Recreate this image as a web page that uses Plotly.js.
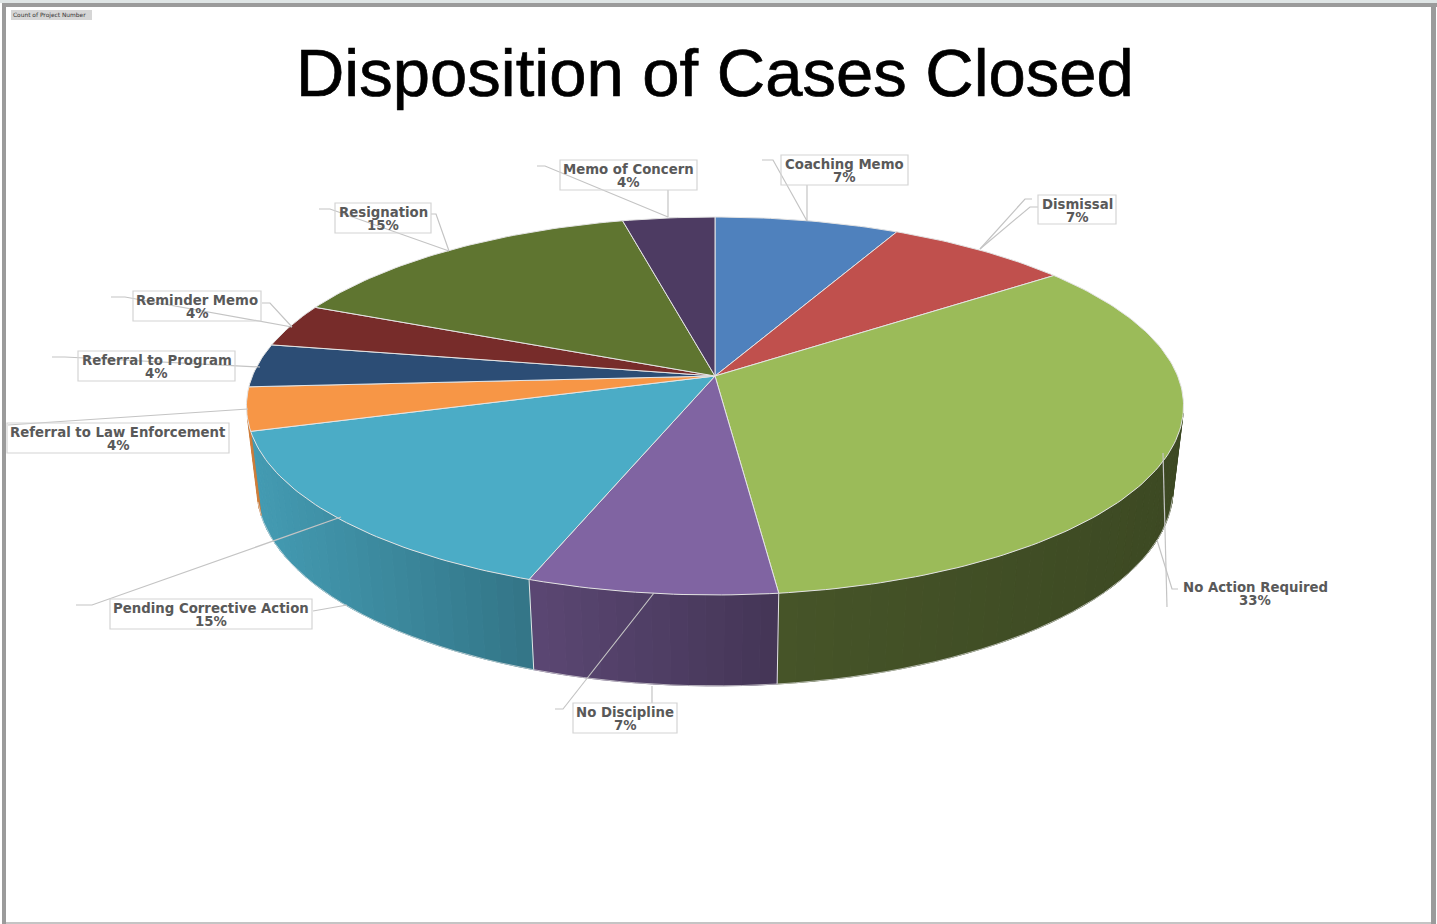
<!DOCTYPE html>
<html><head><meta charset="utf-8">
<script src="https://cdn.plot.ly/plotly-3.0.1.min.js"></script>
<style>html,body{margin:0;padding:0;background:#fff}#chart{width:1437px;height:924px}
.gtitle{stroke:#000;stroke-width:.7px}</style>
</head><body><div id="chart"></div>
<script>
// ---- data ----
const categories = ["Coaching Memo","Dismissal","No Action Required","No Discipline","Pending Corrective Action","Referral to Law Enforcement","Referral to Program","Reminder Memo","Resignation","Memo of Concern"];
const counts = [2,2,9,2,4,1,1,1,4,1];
const chartTitle = "Disposition of Cases Closed";
const fieldButton = "Count of Project Number";

// ---- styles ----
const topColors = ["#4f81bd","#c0504d","#9bbb59","#8064a2","#4bacc6","#f79646","#2c4d75","#772c2a","#5f7530","#4d3b62"];
const wallShade = [[.6,.5],[.6,.5],[.45,.39],[.71,.53],[.90,.68],[.85,.8],[.6,.5],[.6,.5],[.6,.5],[.6,.5]]; // [left,right]

// ---- perspective model of the pie (maps disk coords to page pixels) ----
const view = {cx:715, cy:376, a:462.6, b:184.2, k:.1587, drop:83.3, m:.022};
function project(u,v,z){
  const w = 1 + view.k*v + view.m*z;
  return [view.cx + view.a*u/w, view.cy + (-view.b*v + view.drop*z)/w];
}
const total = counts.reduce((s,c)=>s+c,0);
const rad = d=>d*Math.PI/180;
const rim = (d,z)=>project(Math.sin(rad(d)),Math.cos(rad(d)),z);
function hex(c,f){
  const n=parseInt(c.slice(1),16);
  return "rgb("+[(n>>16)&255,(n>>8)&255,n&255].map(x=>Math.round(x*f)).join(",")+")";
}
const traces=[];
const edge="#e4e4e4";
let acc=0;
const spans=counts.map(c=>{const s=acc/total*360; acc+=c; return [s,acc/total*360];});

// walls: narrow strips so that each carries its share of the shading
spans.forEach(([s,e],i)=>{
  const step=(e-s)/Math.ceil((e-s)/2);
  const strips=[];
  for(let d=s;d<e-1e-6;d+=step){
    const d2=d+step;
    const q=[rim(d,0),rim(d2,0),rim(d2,1),rim(d,1)];
    let area=0;
    q.forEach((p,j)=>{const r=q[(j+1)%4];area+=p[0]*r[1]-r[0]*p[1];});
    if(area>0) continue;
    strips.push([d,d2,q]);
  }
  strips.forEach(([d,d2,q])=>{
    const x0=Math.min(...strips.map(t=>Math.min(t[2][0][0],t[2][1][0])));
    const x1=Math.max(...strips.map(t=>Math.max(t[2][0][0],t[2][1][0])));
    const t=(x1>x0)?((q[0][0]+q[1][0])/2-x0)/(x1-x0):0;
    const col=hex(topColors[i],wallShade[i][0]+(wallShade[i][1]-wallShade[i][0])*t);
    traces.push({type:"scatter",mode:"lines",x:q.concat([q[0]]).map(p=>p[0]),y:q.concat([q[0]]).map(p=>p[1]),
      fill:"toself",fillcolor:col,line:{color:col,width:1},hoverinfo:"skip",showlegend:false});
  });
  if(strips.length){
    const bx=[],by=[];
    strips.forEach(t=>{bx.push(t[2][3][0]);by.push(t[2][3][1]);});
    const l=strips[strips.length-1][2][2]; bx.push(l[0]);by.push(l[1]);
    traces.push({type:"scatter",mode:"lines",x:bx,y:by,line:{color:edge,width:.7},hoverinfo:"skip",showlegend:false});
  }
});
// upright seams at the front
spans.forEach(([s,e])=>{
  if(s>100&&s<250){
    const a=rim(s,0),b=rim(s,1);
    traces.push({type:"scatter",mode:"lines",x:[a[0],b[0]],y:[a[1],b[1]],line:{color:edge,width:1},hoverinfo:"skip",showlegend:false});
  }
});
// top faces
spans.forEach(([s,e],i)=>{
  const pts=[project(0,0,0)];
  for(let d=s;d<e;d+=1) pts.push(rim(d,0));
  pts.push(rim(e,0)); pts.push(project(0,0,0));
  traces.push({type:"scatter",mode:"lines",x:pts.map(p=>p[0]),y:pts.map(p=>p[1]),fill:"toself",fillcolor:topColors[i],
    line:{color:edge,width:1},name:categories[i],hoverinfo:"name+text",text:Math.round(counts[i]/total*100)+"%",showlegend:false});
});

// ---- label boxes [x0,y0,x1,y1,bordered] and leader lines (page pixels) ----
const boxes=[[781,155,908,185,1],[1038,195,1116,224,1],[1181,578,1329,607,0],[573,703,677,733,1],[110,599,312,629,1],
  [7,423,229,453,1],[78,351,235,381,1],[133,291,261,321,1],[335,203,431,233,1],[560,160,697,190,1]];
const leaders=[
 [[[762,160],[773,160],[807,221]],[[807,185],[807,221]]],
 [[[1032,199],[1025,199],[980,249]],[[1038,207],[1030,207],[980,249]]],
 [[[1167,607],[1163,453]],[[1178,589],[1172,589],[1157,540]]],
 [[[555,709],[563,709],[654,593]],[[652,703],[652,686]]],
 [[[76,605],[92,605],[341,517]],[[313,611],[347,605]]],
 [[[8,425],[248,409]]],
 [[[52,357],[65,357],[260,367]]],
 [[[111,297],[125,297],[292,327]],[[262,303],[270,303],[292,327]]],
 [[[319,209],[330,209],[449,251]],[[431,214],[436,214],[449,251]]],
 [[[537,166],[545,166],[668,217]],[[668,190],[668,217]]]
];
leaders.forEach(g=>g.forEach(l=>traces.push({type:"scatter",mode:"lines",x:l.map(p=>p[0]),y:l.map(p=>p[1]),
  line:{color:"#c4c4c4",width:1.2},hoverinfo:"skip",showlegend:false})));

const lab={family:"'DejaVu Sans', sans-serif",size:13.3,color:"#595959",weight:700};
const annotations=[],shapes=[];
categories.forEach((c,i)=>{
  const b=boxes[i], mx=(b[0]+b[2])/2;
  annotations.push({x:mx,y:b[1]+9.5,text:"<b>"+c+"</b>",showarrow:false,xanchor:"center",yanchor:"middle",font:lab});
  annotations.push({x:mx,y:b[1]+22,text:"<b>"+Math.round(counts[i]/total*100)+"%</b>",showarrow:false,xanchor:"center",yanchor:"middle",font:lab});
  if(b[4]) shapes.push({type:"rect",x0:b[0],y0:b[1],x1:b[2],y1:b[3],line:{color:"#d4d4d4",width:1.2},layer:"above"});
});
// frame
shapes.push({type:"rect",x0:0,y0:0,x1:1437,y1:3,fillcolor:"#dfe5e5",line:{width:0},layer:"below"});
shapes.push({type:"rect",x0:2,y0:3,x1:1437,y1:7,fillcolor:"#9b9b9b",line:{width:0},layer:"below"});
shapes.push({type:"rect",x0:2,y0:3,x1:6,y1:924,fillcolor:"#9b9b9b",line:{width:0},layer:"below"});
shapes.push({type:"rect",x0:1431,y0:3,x1:1436,y1:924,fillcolor:"#9b9b9b",line:{width:0},layer:"below"});
shapes.push({type:"rect",x0:6,y0:922,x1:1431,y1:924,fillcolor:"#c4c4c4",line:{width:0},layer:"below"});
shapes.push({type:"rect",x0:11,y0:10,x1:92,y1:20,fillcolor:"#d6d6d6",line:{width:0},layer:"below"});
annotations.push({x:11,y:15,text:fieldButton,showarrow:false,xanchor:"left",yanchor:"middle",
  font:{family:"'DejaVu Sans', sans-serif",size:5.9,color:"#333"}});

Plotly.newPlot("chart",traces,{
  width:1437,height:924,margin:{l:0,r:0,t:0,b:0},paper_bgcolor:"#fff",plot_bgcolor:"rgba(0,0,0,0)",showlegend:false,
  title:{text:chartTitle,x:.4975,xanchor:"center",xref:"paper",y:.922,yref:"paper",yanchor:"middle",
    font:{family:"'Liberation Sans', Arial, sans-serif",size:67,color:"#000"}},
  xaxis:{visible:false,range:[0,1437],fixedrange:true},
  yaxis:{visible:false,range:[924,0],fixedrange:true},
  annotations,shapes
},{displayModeBar:false});
</script></body></html>
